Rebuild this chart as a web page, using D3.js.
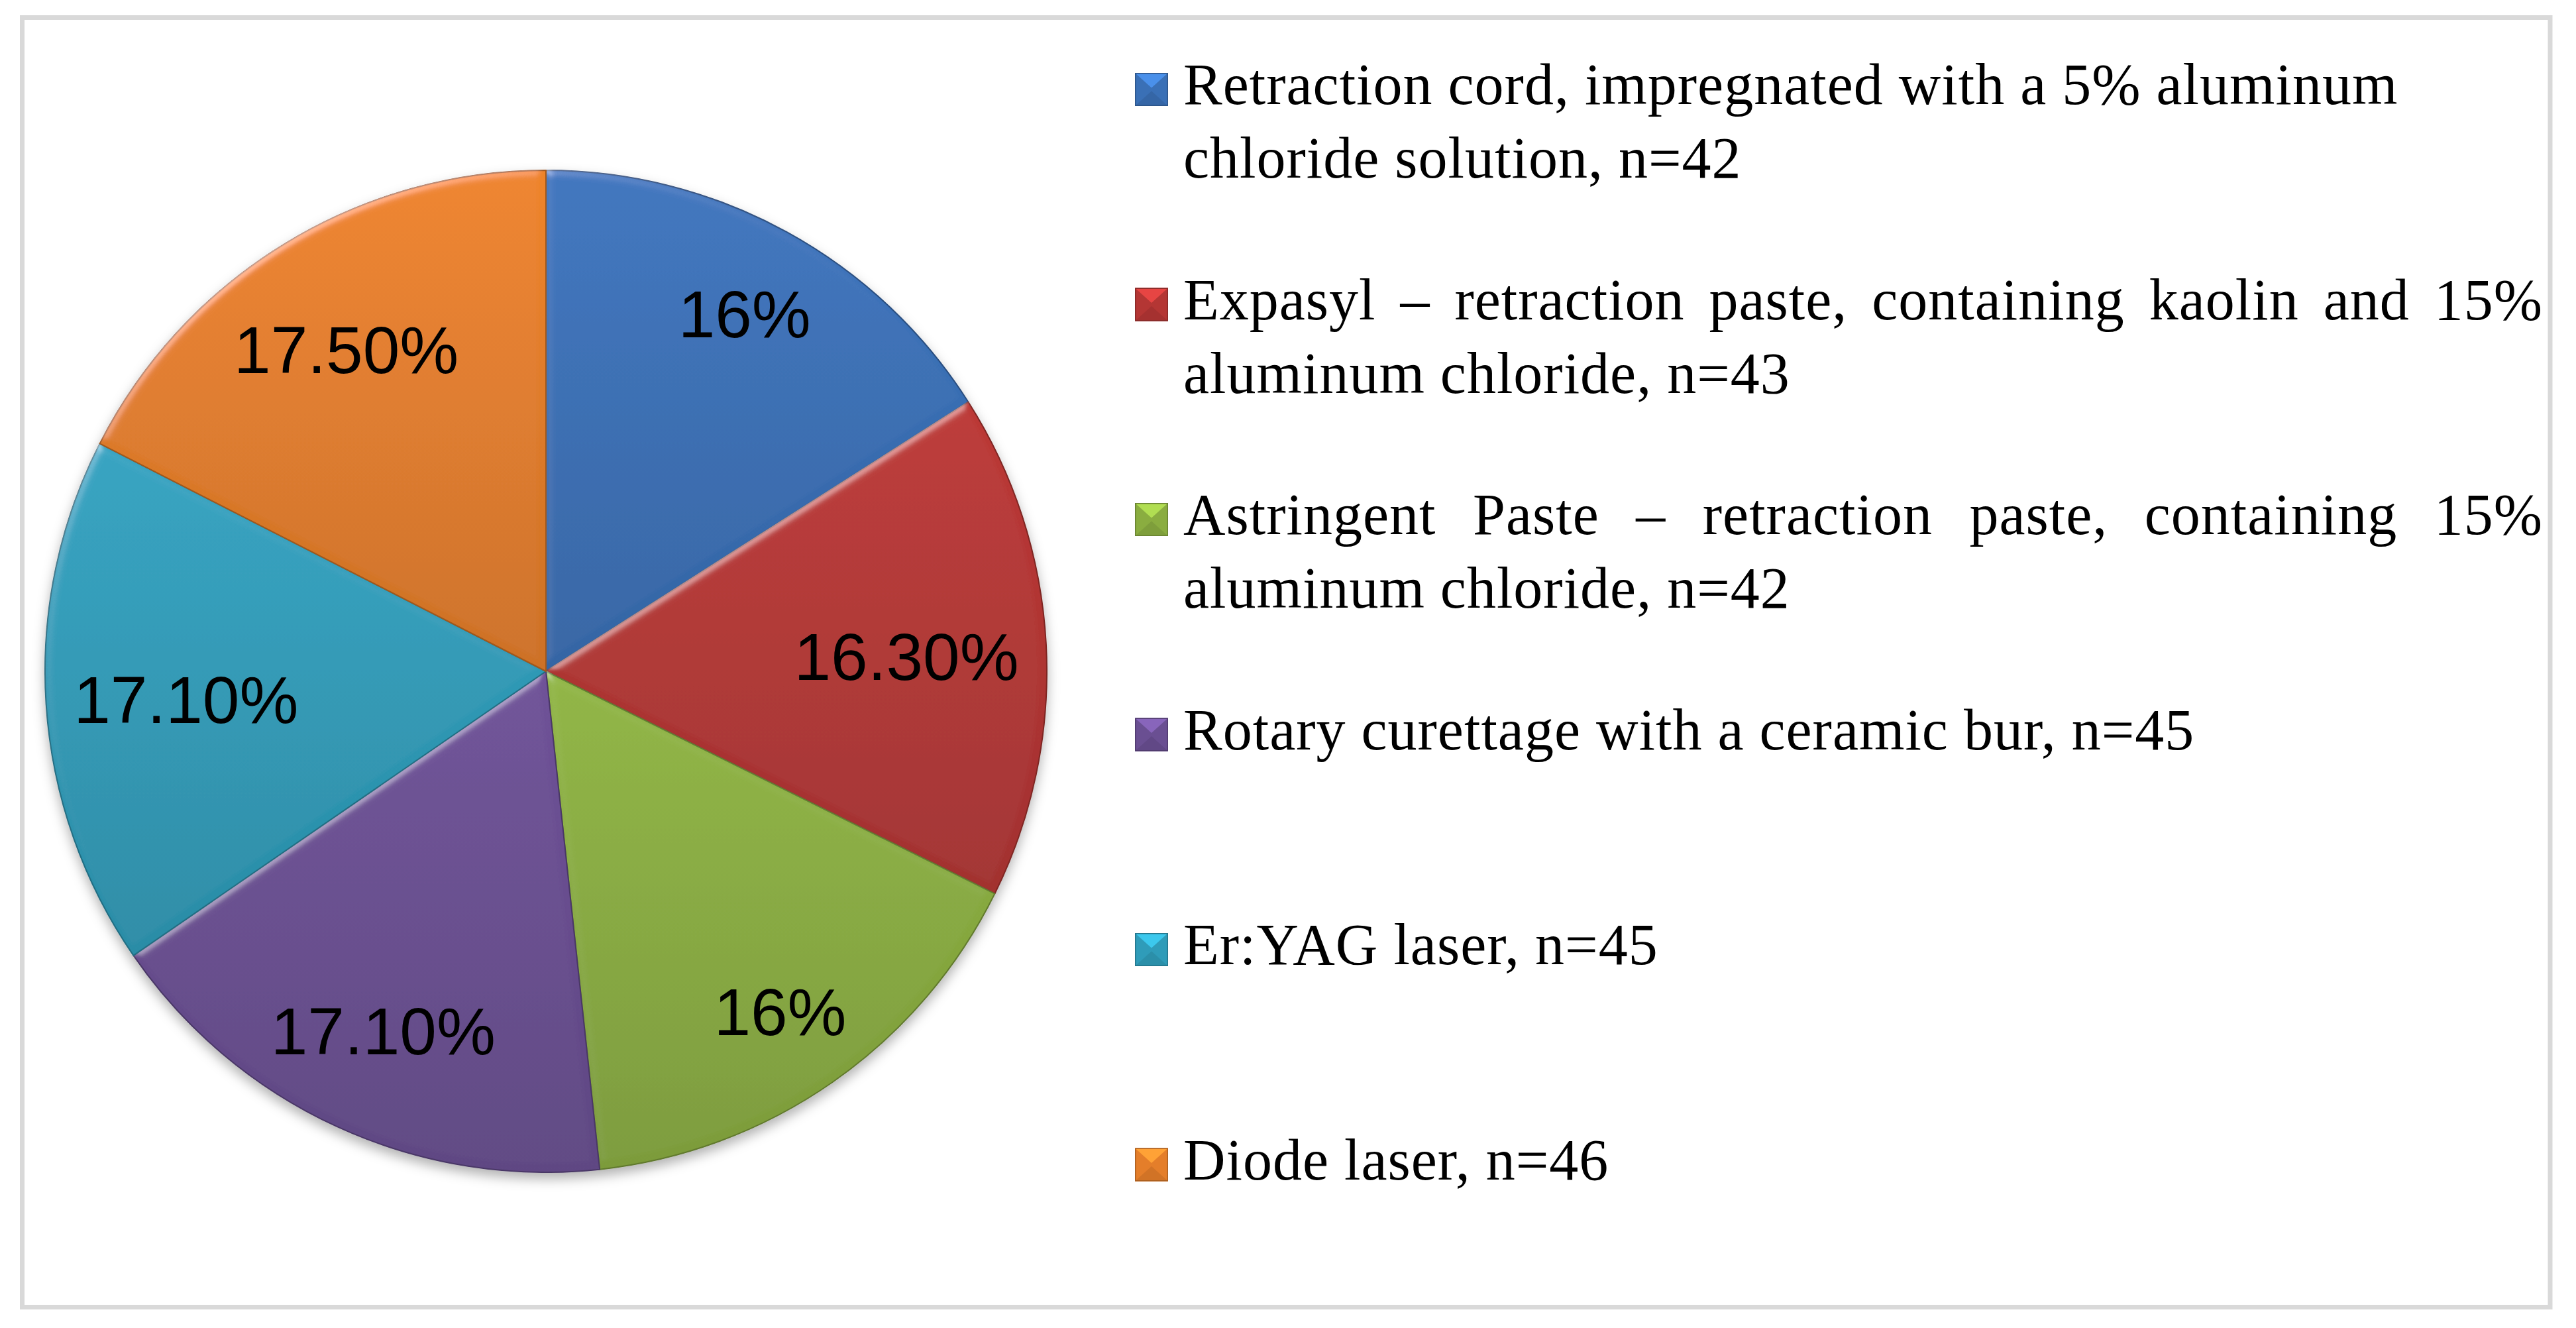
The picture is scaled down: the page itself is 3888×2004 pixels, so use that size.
<!DOCTYPE html>
<html>
<head>
<meta charset="utf-8">
<script src="https://cdn.jsdelivr.net/npm/d3@7"></script>
<style>
html, body { margin: 0; padding: 0; background: #fff; }
svg { display: block; }
</style>
</head>
<body>
<div id="chart"></div>
<script>
// data
var categories = ["Retraction cord", "Expasyl", "Astringent Paste",
    "Rotary curettage", "Er:YAG laser", "Diode laser"];
var counts = [42, 43, 42, 45, 45, 46];
var percentLabels = ["16%", "16.30%", "16%", "17.10%", "17.10%", "17.50%"];
var legendLines = [
    ["Retraction cord, impregnated with a 5% aluminum", "chloride solution, n=42"],
    ["Expasyl \u2013 retraction paste, containing kaolin and 15%", "aluminum chloride, n=43"],
    ["Astringent Paste \u2013 retraction paste, containing 15%", "aluminum chloride, n=42"],
    ["Rotary curettage with a ceramic bur, n=45"],
    ["Er:YAG laser, n=45"],
    ["Diode laser, n=46"]
];
var justifiedFirstLine = [false, true, true, false, false, false];
var sliceColors = ["#3a70b6", "#b43634", "#8aad40", "#6a4f92", "#2f9cb9", "#e47e2a"];

var PieChart = function(options) {
    this.initialize(options);
};

PieChart.prototype = {
    constructor: PieChart,

    defaults: {
        width: 3888,
        height: 2004,
        cx: 824,
        cy: 1013,
        radius: 756,
        labelMargin: 38,
        labelFont: "Liberation Sans, Arial, sans-serif",
        labelSize: 100,
        legendFont: "Liberation Serif, Times New Roman, serif",
        legendSize: 88,
        legendSpacing: 1.0,
        markerX: 1713,
        markerSize: 50,
        textX: 1786,
        textRight: 3838,
        firstBaseline: 157,
        itemStep: 324.5,
        lineStep: 111
    },

    initialize: function(options) {
        this.options = Object.assign({}, this.defaults, options);
        var o = this.options;

        this.svg = d3.select("#chart").append("svg")
            .attr("width", o.width)
            .attr("height", o.height);

        this.build_defs();

        // frame
        this.svg.append("rect")
            .attr("x", 33.5).attr("y", 26.5)
            .attr("width", 3849 - 33.5).attr("height", 1972.5 - 26.5)
            .attr("fill", "none")
            .attr("stroke", "#d9d9d9")
            .attr("stroke-width", 7);

        this.draw_pie();
        this.draw_legend();
    },

    build_defs: function() {
        var defs = this.svg.append("defs");

        var shadow = defs.append("filter").attr("id", "shadow")
            .attr("x", "-10%").attr("y", "-10%")
            .attr("width", "120%").attr("height", "120%");
        shadow.append("feDropShadow")
            .attr("dx", 0).attr("dy", 9)
            .attr("stdDeviation", 9)
            .attr("flood-color", "#000")
            .attr("flood-opacity", 0.3);

        // soft edge highlight, kept weak so the flat part keeps its colour
        var bevel = defs.append("filter").attr("id", "bevel")
            .attr("x", "-5%").attr("y", "-5%")
            .attr("width", "110%").attr("height", "110%");
        bevel.append("feGaussianBlur")
            .attr("in", "SourceAlpha").attr("stdDeviation", 7).attr("result", "blur");
        var spec = bevel.append("feSpecularLighting")
            .attr("in", "blur").attr("surfaceScale", 4)
            .attr("specularConstant", 0.25).attr("specularExponent", 35)
            .attr("lighting-color", "#ffffff").attr("result", "spec");
        spec.append("feDistantLight").attr("azimuth", 235).attr("elevation", 40);
        bevel.append("feComposite")
            .attr("in", "spec").attr("in2", "SourceAlpha")
            .attr("operator", "in").attr("result", "specIn");
        bevel.append("feComposite")
            .attr("in", "SourceGraphic").attr("in2", "specIn")
            .attr("operator", "arithmetic")
            .attr("k1", 0).attr("k2", 1).attr("k3", 1).attr("k4", 0);

        sliceColors.forEach(function(c, i) {
            var g = defs.append("linearGradient").attr("id", "grad" + i)
                .attr("x1", 0).attr("y1", 0).attr("x2", 0).attr("y2", 1);
            g.append("stop").attr("offset", "0%")
                .attr("stop-color", d3.color(c).brighter(0.12));
            g.append("stop").attr("offset", "100%")
                .attr("stop-color", d3.color(c).darker(0.3));
        });
    },

    draw_pie: function() {
        var o = this.options;

        var pie = d3.pie().sort(null).value(function(d) { return d; });
        var arcs = pie(counts);
        var arc = d3.arc().innerRadius(0).outerRadius(o.radius);

        var g = this.svg.append("g")
            .attr("transform", "translate(" + o.cx + "," + o.cy + ")");

        g.append("g").attr("filter", "url(#shadow)")
            .selectAll("path")
            .data(arcs)
            .enter().append("path")
            .attr("d", arc)
            .attr("fill", function(d, i) { return "url(#grad" + i + ")"; })
            .attr("filter", "url(#bevel)")
            .attr("stroke", function(d, i) { return d3.color(sliceColors[i]).darker(1); })
            .attr("stroke-width", 2)
            .attr("stroke-linejoin", "round");

        // labels: pushed out along the bisector until the box touches the rim
        var R = o.radius - o.labelMargin;
        var fs = o.labelSize;
        var labels = g.append("g")
            .attr("font-family", o.labelFont)
            .attr("font-size", fs)
            .attr("fill", "#000")
            .attr("text-anchor", "middle");

        labels.selectAll("text")
            .data(arcs)
            .enter().append("text")
            .text(function(d, i) { return percentLabels[i]; })
            .each(function(d) {
                var a = this.getComputedTextLength() / 2;
                var b = fs / 2;
                var mid = (d.startAngle + d.endAngle) / 2;
                var s = Math.abs(Math.sin(mid));
                var c = Math.abs(Math.cos(mid));
                var p = a * s + b * c;
                var dist = -p + Math.sqrt(p * p - (a * a + b * b - R * R));
                d3.select(this)
                    .attr("x", dist * Math.sin(mid))
                    .attr("y", -dist * Math.cos(mid) + 0.42 * fs);
            });
    },

    draw_marker: function(g, x, y, color) {
        var s = this.options.markerSize;
        var c = d3.color(color);
        g.append("rect")
            .attr("x", x).attr("y", y)
            .attr("width", s).attr("height", s)
            .attr("fill", c.formatHex());
        g.append("path")
            .attr("d", "M" + x + "," + y + "L" + (x + s) + "," + y +
                "L" + (x + s / 2) + "," + (y + s * 0.45) + "Z")
            .attr("fill", c.brighter(0.7));
        g.append("path")
            .attr("d", "M" + x + "," + (y + s) + "L" + (x + s) + "," + (y + s) +
                "L" + (x + s / 2) + "," + (y + s * 0.55) + "Z")
            .attr("fill", c.darker(0.25));
        g.append("rect")
            .attr("x", x + 0.75).attr("y", y + 0.75)
            .attr("width", s - 1.5).attr("height", s - 1.5)
            .attr("fill", "none")
            .attr("stroke", c.darker(0.8))
            .attr("stroke-width", 1.5);
    },

    draw_legend: function() {
        var o = this.options;
        var self = this;
        var g = this.svg.append("g")
            .attr("font-family", o.legendFont)
            .attr("font-size", o.legendSize)
            .attr("letter-spacing", o.legendSpacing)
            .attr("fill", "#000");

        legendLines.forEach(function(lines, i) {
            var base = o.firstBaseline + i * o.itemStep;
            self.draw_marker(g, o.markerX, base - 22 - o.markerSize / 2, sliceColors[i]);

            lines.forEach(function(line, j) {
                var y = base + j * o.lineStep;
                if (j == 0 && justifiedFirstLine[i] && lines.length > 1) {
                    self.justify_line(g, line, y);
                } else {
                    g.append("text").attr("x", o.textX).attr("y", y).text(line);
                }
            });
        });
    },

    justify_line: function(g, line, y) {
        var o = this.options;
        var words = line.split(" ");
        var widths = words.map(function(w) {
            var t = g.append("text").text(w);
            var len = t.node().getComputedTextLength();
            t.remove();
            return len;
        });
        var total = d3.sum(widths);
        var gap = (o.textRight - o.textX - total) / (words.length - 1);
        var x = o.textX;
        var text = g.append("text").attr("y", y);
        words.forEach(function(w, k) {
            text.append("tspan").attr("x", x).text(w);
            x += widths[k] + gap;
        });
    }
};

new PieChart({});
</script>
</body>
</html>
